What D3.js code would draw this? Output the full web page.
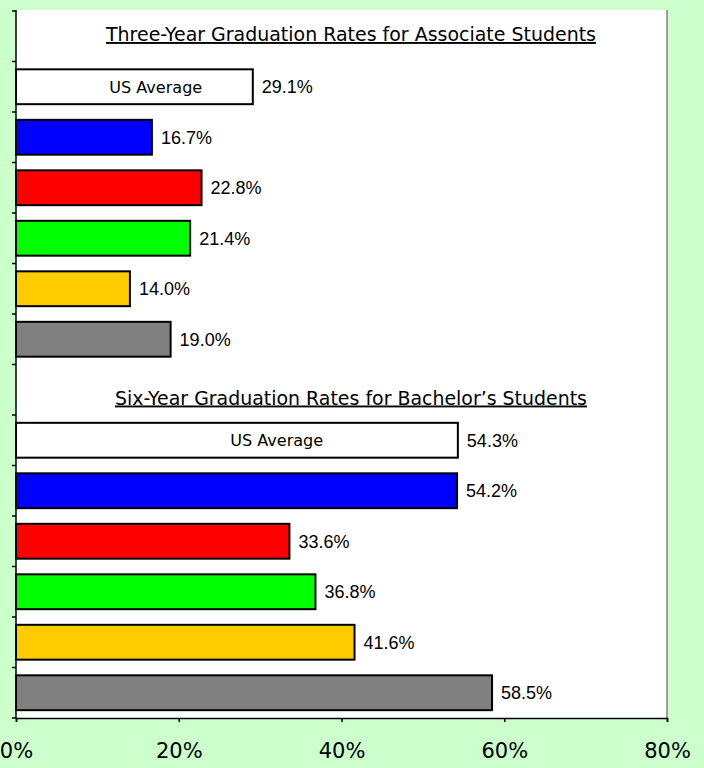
<!DOCTYPE html>
<html><head><meta charset="utf-8">
<script src="https://cdn.jsdelivr.net/npm/d3@7"></script>
<style>
html,body{margin:0;padding:0;background:#CCFFCC;}
svg{display:block;}
</style></head>
<body>
<svg id="chart" width="704" height="768"></svg>
<script>
// ---- data ----
const groupTitles = ["Three-Year Graduation Rates for Associate Students", "Six-Year Graduation Rates for Bachelor\u2019s Students"];
const seriesNames = ["US Average", "Blue", "Red", "Green", "Yellow", "Gray"];
const seriesColors = ["#FFFFFF", "#0000FF", "#FF0000", "#00FF00", "#FFCC00", "#808080"];
const associateRates = [29.1, 16.7, 22.8, 21.4, 14.0, 19.0];
const bachelorRates = [54.3, 54.2, 33.6, 36.8, 41.6, 58.5];
const xTicks = [0, 20, 40, 60, 80];

(function () {
const svg = d3.select("#chart");
const pLeft = 16, pRight = 667, pTop = 10, pBottom = 718, bandTop = 11;

const rows = [];
[associateRates, bachelorRates].forEach((vals, g) => {
  rows.push({type: "title", key: "t" + g, text: groupTitles[g]});
  vals.forEach((v, i) => rows.push({type: "bar", key: "b" + g + "_" + i, value: v, color: seriesColors[i], name: seriesNames[i]}));
});

const x = d3.scaleLinear().domain([0, 80]).range([pLeft, pRight]);
const y = d3.scaleBand().domain(rows.map(r => r.key)).range([bandTop, pBottom]).paddingInner(0.31).paddingOuter(0.155);
const step = y.step();
const bandStart = k => y(k) - step * 0.155;

// plot area
svg.append("rect").attr("x", pLeft).attr("y", pTop).attr("width", pRight - pLeft).attr("height", pBottom - pTop).attr("fill", "#FFFFFF");
svg.append("line").attr("x1", pRight).attr("x2", pRight).attr("y1", pTop).attr("y2", pBottom).attr("stroke", "#808080").attr("stroke-width", 1.5);

// bars
const bars = rows.filter(r => r.type === "bar");
svg.selectAll("rect.bar").data(bars).enter().append("rect").attr("class", "bar")
  .attr("x", x(0)).attr("y", d => y(d.key))
  .attr("width", d => x(d.value) - x(0)).attr("height", y.bandwidth())
  .attr("fill", d => d.color).attr("stroke", "#000").attr("stroke-width", 2);

// value labels
svg.selectAll("text.val").data(bars).enter().append("text").attr("class", "val")
  .attr("x", d => x(d.value) + 9).attr("y", d => y(d.key) + y.bandwidth() / 2)
  .attr("dy", "0.36em").attr("font-family", "'Liberation Sans', Arial, sans-serif")
  .attr("font-size", 18).attr("fill", "#000").text(d => d.value.toFixed(1) + "%");

// US Average labels
svg.selectAll("text.us").data(bars.filter(d => d.name === "US Average")).enter().append("text").attr("class", "us")
  .attr("x", d => x(d.value * 0.59)).attr("y", d => y(d.key) + y.bandwidth() / 2)
  .attr("dy", "0.36em").attr("text-anchor", "middle")
  .attr("font-family", "'DejaVu Sans', Verdana, sans-serif").attr("font-size", 16)
  .attr("textLength", 93).attr("lengthAdjust", "spacingAndGlyphs")
  .text(d => d.name);

// titles
const titleRows = rows.filter(r => r.type === "title");
const titleOffsets = [30, 40];
svg.selectAll("text.title").data(titleRows).enter().append("text").attr("class", "title")
  .attr("x", 351)
  .attr("y", (d, i) => bandStart(d.key) + titleOffsets[i])
  .attr("text-anchor", "middle")
  .attr("font-family", "'DejaVu Sans', Verdana, sans-serif").attr("font-size", 19)
  .attr("textLength", (d, i) => i === 0 ? 490 : 472).attr("lengthAdjust", "spacingAndGlyphs")
  .style("text-decoration", "underline")
  .text(d => d.text);

// left axis: line + ticks at band boundaries
const boundaries = rows.map(r => bandStart(r.key));
boundaries.push(pBottom);
const ga = svg.append("g");
ga.append("line").attr("x1", pLeft).attr("x2", pLeft).attr("y1", pTop).attr("y2", pBottom).attr("stroke", "#000").attr("stroke-width", 1.5);
ga.selectAll("line.yt").data(boundaries).enter().append("line").attr("class", "yt")
  .attr("x1", pLeft - 4).attr("x2", pLeft).attr("y1", d => d).attr("y2", d => d)
  .attr("stroke", "#000").attr("stroke-width", 1.5);

// bottom axis
const xAxis = d3.axisBottom(x).tickValues(xTicks).tickFormat(d => d + "%").tickSize(4).tickPadding(21);
const gx = svg.append("g").attr("transform", `translate(0,${pBottom})`).call(xAxis);
gx.select(".domain").attr("stroke", "#000").attr("stroke-width", 1.5);
gx.selectAll(".tick line").attr("stroke", "#000").attr("stroke-width", 1.5);
gx.selectAll(".tick text").attr("font-family", "'DejaVu Sans', Verdana, sans-serif").attr("font-size", 21).attr("fill", "#000");
})();
</script>
</body></html>
